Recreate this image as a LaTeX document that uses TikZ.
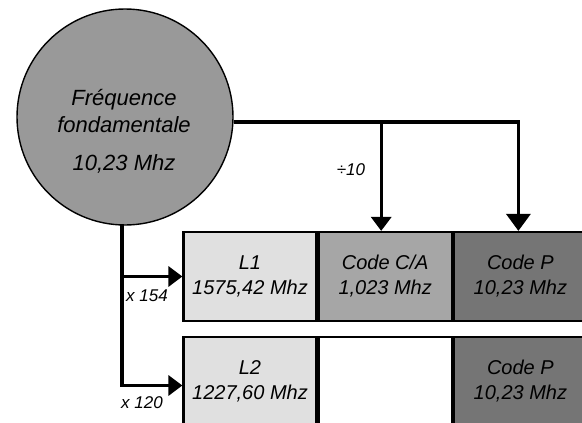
\documentclass[tikz,border=0pt]{standalone}
\usepackage{fontspec}
\setmainfont{Liberation Sans}
\usetikzlibrary{arrows.meta,positioning}

\definecolor{grisrond}{RGB}{153,153,153}
\definecolor{grisclair}{RGB}{224,224,224}
\definecolor{grismoyen}{RGB}{166,166,166}
\definecolor{grisfonce}{RGB}{117,117,117}

\tikzset{
  case/.style={draw,line width=2.2,minimum width=133,minimum height=89,inner sep=0,
    align=center,font=\fontsize{20}{25}\selectfont\itshape},
  fleche/.style={line width=3.3,-{Triangle[width=20,length=14]}},
  etiq/.style={font=\fontsize{17}{20}\selectfont\itshape,inner sep=0},
  texterond/.style={font=\fontsize{22}{26}\selectfont\itshape,inner sep=0,anchor=base}
}

\begin{document}
\begin{tikzpicture}[x=1pt,y=-1pt]
\useasboundingbox (0,0) rectangle (582,423);
			% oscillateur
			\node[circle,draw,line width=1.4,fill=grisrond,minimum size=216,inner sep=0] (f0) at (125,117) {};
			\node[texterond] (t1) at (124,105) {Fréquence};
			\node[texterond] (t2) at (124,132) {fondamentale};
			\node[texterond] (t3) at (124,170) {10,23 Mhz};
			% porteuse L1
			\node[case,fill=grisclair] (L1) at (250,276.5) {L1\\1575,42 Mhz};
			\node[case,fill=grismoyen,right=0 of L1] (CA1) {Code C/A\\1,023 Mhz};
			\node[case,fill=grisfonce,right=0 of CA1] (P1) {Code P\\10,23 Mhz};
			% porteuse L2
			\node[case,fill=grisclair] (L2) at (250,381.5) {L2\\1227,60 Mhz};
			\node[case,fill=white,right=0 of L2] (vide2) {};
			\node[case,fill=grisfonce,right=0 of vide2] (P2) {Code P\\10,23 Mhz};
			% liaisons
			\draw[fleche,-{Triangle[width=24,length=17]}] (f0.east |- 0,122) -| ([xshift=-2]P1.north);
			\draw[fleche] ([xshift=-4]CA1.north |- 0,122) -- ([xshift=-4]CA1.north);
			\draw[fleche] (122,224) |- (L1.west);
			\draw[fleche] (122,224) |- ([yshift=-4]L2.west);
			\node[etiq] (div) at (351,170) {÷10};
			\node[etiq] (m154) at (147,296) {x 154};
			\node[etiq] (m120) at (142,403) {x 120};
\end{tikzpicture}
\end{document}
